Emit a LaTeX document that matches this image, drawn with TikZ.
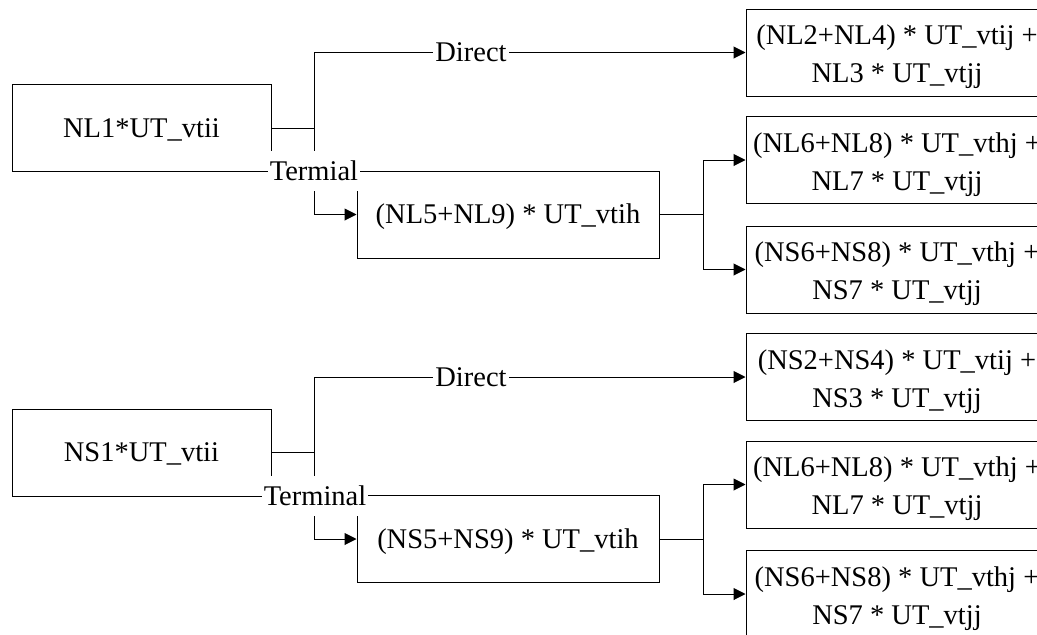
\documentclass[tikz,border=0pt]{standalone}
\usepackage{fontspec}
\setmainfont{Liberation Serif}
\usetikzlibrary{arrows.meta}
\begin{document}
\begin{tikzpicture}[x=1pt,y=-1pt,
  every node/.style={font=\fontsize{28.5}{38}\selectfont},
  box/.style={draw, line width=1pt, rectangle, inner sep=0pt, minimum height=87pt, text height=20pt, text depth=2pt},
  twobox/.style={draw, line width=1pt, rectangle, inner sep=0pt, minimum width=302pt, minimum height=87pt, align=center, text height=68pt, text depth=8pt},
  conn/.style={line width=1pt},
  arr/.style={line width=1pt, -{Triangle[length=12pt,width=12pt]}},
  lbl/.style={fill=white, inner xsep=2pt, inner ysep=0pt, minimum height=40pt}
]
\clip (0,0) rectangle (1037,635);
\useasboundingbox (0,0) rectangle (1037,635);

% ---------- top group ----------
\node[box, minimum width=259pt] (nl1) at (141.5,128) {NL1*UT\_vtii};
\node[box, minimum width=302pt] (nl5) at (508,214.5) {(NL5+NL9) * UT\_vtih};
\node[twobox] (nl2) at (897,52.5) {(NL2+NL4) * UT\_vtij +\\NL3 * UT\_vtjj};
\node[twobox] (nl6a) at (897,160) {(NL6+NL8) * UT\_vthj +\\NL7 * UT\_vtjj};
\node[twobox] (ns6a) at (897,269.5) {(NS6+NS8) * UT\_vthj +\\NS7 * UT\_vtjj};
\coordinate (j1) at (314,128);
\coordinate (j2) at (703,214.5);
\draw[conn] (nl1.east) -- (j1);
\draw[arr] (j1) |- (nl2.west);
\draw[arr] (j1) |- (nl5.west);
\draw[conn] (nl5.east) -- (j2);
\draw[arr] (j2) |- (nl6a.west);
\draw[arr] (j2) |- (ns6a.west);
\node[lbl] (d1) at (471,52.5) {Direct};
\node[lbl] (t1) at (314,171) {Termial};

% ---------- bottom group ----------
\node[box, minimum width=259pt] (ns1) at (141.5,452.5) {NS1*UT\_vtii};
\node[box, minimum width=302pt] (ns5) at (508,539) {(NS5+NS9) * UT\_vtih};
\node[twobox] (ns2) at (897,377) {(NS2+NS4) * UT\_vtij +\\NS3 * UT\_vtjj};
\node[twobox] (nl6b) at (897,484.5) {(NL6+NL8) * UT\_vthj +\\NL7 * UT\_vtjj};
\node[twobox] (ns6b) at (897,594) {(NS6+NS8) * UT\_vthj +\\NS7 * UT\_vtjj};
\coordinate (j3) at (314,452.5);
\coordinate (j4) at (703,539);
\draw[conn] (ns1.east) -- (j3);
\draw[arr] (j3) |- (ns2.west);
\draw[arr] (j3) |- (ns5.west);
\draw[conn] (ns5.east) -- (j4);
\draw[arr] (j4) |- (nl6b.west);
\draw[arr] (j4) |- (ns6b.west);
\node[lbl] (d2) at (471,377) {Direct};
\node[lbl] (t2) at (315,495.5) {Terminal};
\end{tikzpicture}
\end{document}
